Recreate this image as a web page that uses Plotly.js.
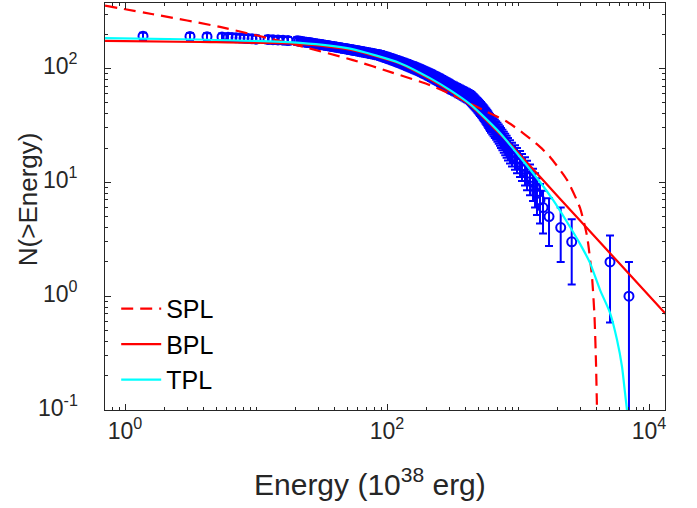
<!DOCTYPE html>
<html>
<head>
<meta charset="utf-8">
<script src="https://cdn.plot.ly/plotly-3.0.1.min.js"></script>
<style>html,body{margin:0;padding:0;background:#fff;}#chart{width:697px;height:508px;}</style>
</head>
<body>
<div id="chart"></div>
<script>
// Observed energies (1e38 erg), sorted from largest (rank N=1) to smallest
var energies = [
 7031, 5039, 2570, 2118, 1725, 1552, 1472, 1396, 1349, 1302,
 1235, 1172, 1131, 1073, 1036, 982.6, 948.6, 900.1, 868.8, 838.6,
 818.6, 798.7, 779.2, 760.3, 741.8, 728.9, 712.6, 696.6, 681.1, 665.8,
 651.0, 636.4, 622.2, 611.4, 601.8, 592.3, 583.0, 573.9, 564.9, 555.9,
 547.4, 538.8, 530.3, 522.0, 512.8, 504.9, 496.9, 489.1, 481.4, 473.8,
 466.4, 459.0, 451.8, 444.7, 437.7, 430.1, 419.2, 408.6, 398.2, 388.1,
 378.3, 368.7, 359.4, 350.3, 341.4, 332.7, 324.2, 316.0, 307.9, 302.7,
 296.7, 291.0, 285.3, 279.8, 274.3, 269.0, 263.8, 258.6, 253.6, 248.7,
 243.9, 239.0, 234.5, 229.9, 225.4, 221.1, 216.8, 212.5, 208.5, 204.4,
 200.5, 196.6, 192.8, 189.0, 185.4, 181.8, 178.5, 174.8, 171.2, 167.7,
 164.3, 160.9, 157.6, 154.3, 151.2, 148.1, 145.0, 142.1, 139.2, 136.3,
 133.5, 130.8, 128.1, 125.4, 122.9, 120.3, 117.9, 115.4, 113.1, 110.7,
 108.5, 106.2, 104.1, 101.9, 99.82, 97.77, 95.76, 93.80, 91.88, 89.99,
 88.44, 85.55, 82.76, 80.06, 77.45, 74.92, 72.48, 70.11, 67.83, 65.61,
 63.48, 61.41, 59.40, 57.47, 55.59, 53.78, 52.03, 50.33, 48.69, 47.10,
 45.56, 44.08, 42.64, 41.25, 39.90, 38.61, 37.35, 36.13, 34.95, 33.81,
 32.71, 31.64, 30.61, 29.61, 28.64, 27.71, 26.80, 25.93, 25.08, 24.27,
 23.48, 22.71, 21.97, 21.25, 20.56, 17.55, 16.08, 14.72, 13.48, 12.35,
 10.0, 9.323, 8.689, 8.098, 7.548, 7.037, 6.558, 6.113, 5.502, 4.227,
 3.134, 1.372
];

// Fitted models
var splE = [0.704, 1.636, 5.311, 20.56, 55.0, 111.1, 212.9, 319.0, 580.0, 824.2, 1092, 1472, 1755, 2366, 2974, 3363, 3672, 3837, 3939, 4010];
var splN = [356.2, 299.5, 231.7, 160.1, 118.3, 91.5, 71.4, 58.3, 41.6, 34.0, 27.1, 20.5, 16.7, 10.5, 5.95, 3.38, 1.477, 0.6585, 0.26, 0.0986];

var bplE = [0.704, 3.736, 21.67, 52.2, 125.7, 212.9, 302.7, 430.1, 512.8, 728.9, 868.8, 1472, 2974, 6005, 15000];
var bplN = [174.6, 170.8, 164.0, 146.2, 110.2, 80.5, 63.2, 47.6, 39.7, 26.5, 21.7, 11.17, 4.62, 1.912, 0.607];

var tplE = [0.704, 3.736, 21.67, 52.2, 125.7, 212.9, 302.7, 430.1, 512.8, 728.9, 1036, 1472, 1850, 2366, 2974, 3544, 4227, 5039, 5698, 6222, 6558, 6795];
var tplN = [184.4, 179.7, 167.7, 149.2, 111.3, 82.2, 64.5, 48.6, 40.5, 27.1, 16.7, 10.06, 7.0, 4.48, 2.88, 1.96, 1.136, 0.714, 0.4137, 0.2398, 0.1418, 0.0986];

var seriesNames = ['SPL', 'BPL', 'TPL'];
var xTitle = 'Energy (10<sup>38</sup> erg)';
var yTitle = 'N(>Energy)';
var xTickVals = [1, 100, 10000];
var xTickText = ['10<sup>0</sup>', '10<sup>2</sup>', '10<sup>4</sup>'];
var yTickVals = [0.1, 1, 10, 100];
var yTickText = ['10<sup>-1</sup>', '10<sup>0</sup>', '10<sup>1</sup>', '10<sup>2</sup>'];

// cumulative counts N(>E) = rank, Poisson errors
var counts = energies.map(function (e, i) { return i + 1; });
var errs = counts.map(function (n) { return Math.sqrt(n); });

function minorTicks(kmin, kmax, majors) {
  var out = [];
  for (var k = kmin; k <= kmax; k++) {
    for (var m = 1; m <= 9; m++) {
      var v = m * Math.pow(10, k);
      v = parseFloat(v.toPrecision(6));
      if (majors.indexOf(v) < 0) out.push(v);
    }
  }
  return out;
}

var ink = '#262626';
var fontFam = 'Liberation Sans, Arial, Helvetica, sans-serif';

var traces = [
  {
    x: energies, y: counts, type: 'scatter', mode: 'markers', showlegend: false,
    marker: { symbol: 'circle-open', size: 9, color: '#0000ff', line: { width: 2, color: '#0000ff' } },
    error_y: { type: 'data', array: errs, visible: true, color: '#0000ff', thickness: 2, width: 4 },
    hoverinfo: 'skip'
  },
  {
    x: splE, y: splN, type: 'scatter', mode: 'lines', name: seriesNames[0],
    line: { color: '#ff0000', width: 2.2, dash: '12px,7px', shape: 'spline', smoothing: 0.6 }
  },
  {
    x: bplE, y: bplN, type: 'scatter', mode: 'lines', name: seriesNames[1],
    line: { color: '#ff0000', width: 2.2, shape: 'spline', smoothing: 0.6 }
  },
  {
    x: tplE, y: tplN, type: 'scatter', mode: 'lines', name: seriesNames[2],
    line: { color: '#00ffff', width: 2.2, shape: 'spline', smoothing: 0.6 }
  }
];

var axisCommon = {
  type: 'log', showline: true, mirror: 'allticks', linecolor: ink, linewidth: 1,
  ticks: 'inside', ticklen: 6, tickwidth: 1, tickcolor: ink, tickmode: 'array',
  showgrid: false, zeroline: false,
  tickfont: { family: fontFam, size: 23, color: ink }
};

// y tick labels placed as annotations so that their gap to the axis matches
var yLabelAnns = yTickVals.map(function (v, i) {
  return {
    text: yTickText[i], xref: 'paper', yref: 'y', x: -0.045, y: Math.log10(v),
    xanchor: 'right', yanchor: 'middle', yshift: 4, showarrow: false,
    font: { family: fontFam, size: 23, color: ink }
  };
});

var layout = {
  width: 697, height: 508,
  margin: { l: 105, r: 32, t: 3, b: 98 },
  paper_bgcolor: '#fff', plot_bgcolor: '#fff',
  font: { family: fontFam, color: ink },
  showlegend: true,
  legend: {
    x: 0.02, y: 0.305, xanchor: 'left', yanchor: 'top',
    bgcolor: 'rgba(0,0,0,0)', borderwidth: 0,
    font: { family: fontFam, size: 25, color: '#000' },
    itemwidth: 40, traceorder: 'normal'
  },
  xaxis: Object.assign({}, axisCommon, {
    range: [-0.1527, 4.1221],
    tickvals: xTickVals, ticktext: xTickText,
    minor: { tickmode: 'array', tickvals: minorTicks(-1, 4, xTickVals), ticks: 'inside', ticklen: 3, tickcolor: ink, showgrid: false }
  }),
  yaxis: Object.assign({}, axisCommon, {
    range: [-1, 2.575],
    tickvals: yTickVals, showticklabels: false,
    minor: { tickmode: 'array', tickvals: minorTicks(-1, 2, yTickVals), ticks: 'inside', ticklen: 3, tickcolor: ink, showgrid: false }
  }),
  annotations: [
    {
      text: xTitle, xref: 'paper', yref: 'paper', x: 0.473, y: -0.178,
      xanchor: 'center', yanchor: 'middle', showarrow: false,
      font: { family: fontFam, size: 30, color: ink }
    },
    {
      text: yTitle, xref: 'paper', yref: 'paper', x: -0.1375, y: 0.518, textangle: -90,
      xanchor: 'center', yanchor: 'middle', showarrow: false,
      font: { family: fontFam, size: 26, color: ink }
    }
  ].concat(yLabelAnns)
};

Plotly.newPlot('chart', traces, layout, { staticPlot: true, displayModeBar: false });
</script>
</body>
</html>
